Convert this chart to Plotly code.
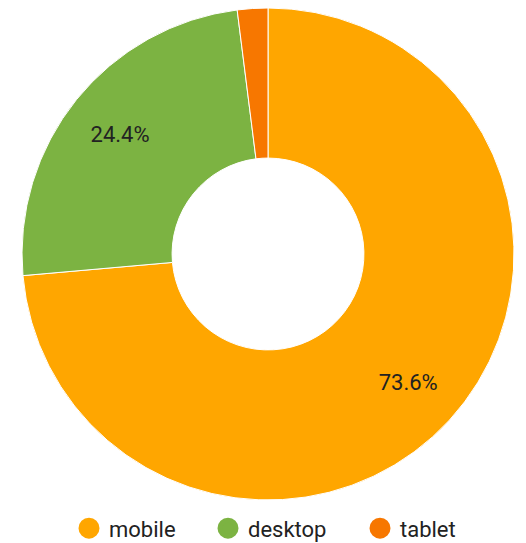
import plotly.graph_objects as go

categories = ["mobile", "desktop", "tablet"]
values = [73.6, 24.4, 2.0]
colors = ["#FFA600", "#7CB342", "#F77700"]
legend_widths = [94, 107, 70]

labels_text = [f"{v:.1f}%" if v >= 5 else "" for v in values]
pie_domain = dict(x=[22/526, 514/526], y=[1-500/543, 1-8/543])

fig = go.Figure()
fig.add_trace(go.Pie(
    labels=categories, values=values, sort=False, direction="clockwise",
    rotation=0, hole=0.39,
    marker=dict(colors=colors, line=dict(color="white", width=1)),
    textinfo="none", domain=pie_domain,
    showlegend=False, hoverinfo="label+percent",
))
# transparent ring used only to place the percentage labels further out
fig.add_trace(go.Pie(
    labels=categories, values=values, sort=False, direction="clockwise",
    rotation=0, hole=0.545,
    marker=dict(colors=["rgba(0,0,0,0)"] * 3, line=dict(width=0)),
    text=labels_text, textinfo="text", textposition="inside",
    insidetextorientation="horizontal",
    textfont=dict(family="Roboto", size=22, color="#222222"),
    domain=pie_domain, showlegend=False, hoverinfo="skip",
))
for c, col, lw in zip(categories, colors, legend_widths):
    fig.add_trace(go.Scatter(
        x=[None], y=[None], mode="markers", name=c, legendwidth=lw,
        marker=dict(symbol="circle", size=16, color=col, line=dict(color=col, width=5)),
    ))

fig.update_layout(
    width=526, height=543,
    margin=dict(l=0, r=0, t=0, b=0, autoexpand=False),
    paper_bgcolor="white", plot_bgcolor="white",
    xaxis=dict(visible=False), yaxis=dict(visible=False),
    uniformtext=dict(minsize=22, mode="show"),
    legend=dict(orientation="h", x=69/526, xanchor="left", y=0.027, yanchor="middle",
                font=dict(family="Roboto", size=22, color="#222222"),
                itemsizing="trace", itemwidth=30, traceorder="normal"),
)
fig.write_html("out.html")
